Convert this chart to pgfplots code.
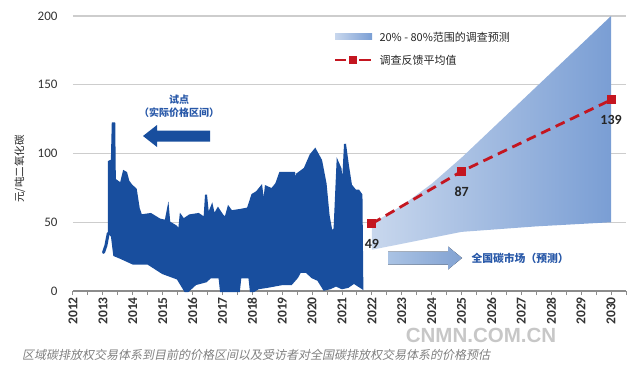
\documentclass[border=0pt]{standalone}
\usepackage{fontspec}
\setmainfont{Carlito}
\newfontfamily\cjk{Noto Sans CJK SC}
\newfontfamily\cjkit[FakeSlant=0.2]{Noto Sans CJK SC}
\newfontfamily\wm{Liberation Sans}
\usepackage{pgfplots}
\pgfplotsset{compat=1.18}
\definecolor{pilot}{RGB}{24,78,158}
\definecolor{bandL}{RGB}{200,215,237}
\definecolor{bandR}{RGB}{122,158,212}
\definecolor{fred}{RGB}{196,22,32}
\definecolor{txtblue}{RGB}{40,88,168}
\definecolor{arrowL}{RGB}{170,195,228}
\definecolor{arrowR}{RGB}{130,162,210}
\definecolor{gridc}{RGB}{205,205,205}
\definecolor{axc}{RGB}{140,140,140}
\begin{document}
\begin{tikzpicture}[x=1pt,y=1pt]
\useasboundingbox (0,0) rectangle (640,373);
\begin{axis}[
  at={(73pt,82pt)}, anchor=south west,
  scale only axis, width=553pt, height=275pt,
  xmin=2012, xmax=2030.5, ymin=0, ymax=200,
  clip=false,
  separate axis lines,
  axis x line*=bottom, axis y line*=left,
  y axis line style={draw=none},
  x axis line style={draw=axc, line width=1.2pt},
  xtick={2012,...,2030},
  minor xtick={2012.5,2013.5,...,2030.5},
  xtick align=outside,
  major tick length=4pt, minor tick length=4pt,
  xtick style={draw=axc, line width=1pt},
  minor tick style={draw=axc, line width=1pt},
  ytick={0,50,100,150,200},
  ytick style={draw=none},
  ymajorgrids,
  grid style={draw=gridc, line width=1.2pt},
  /pgf/number format/assume math mode=true,
  xticklabel={\pgfmathprintnumber[1000 sep={}]{\tick}},
  xticklabel style={rotate=90, anchor=east, font=\bfseries\fontsize{13.5}{14}\selectfont, text=black!80, inner sep=2pt},
  yticklabel style={font=\fontsize{13}{14}\selectfont, text=black!80, xshift=-12pt},
]
% forecast band (20%-80%)
\addplot[draw=none, left color=bandL, right color=bandR] coordinates {
  (2022,30) (2022,49) (2023,62) (2024,78) (2025,97) (2030,200)
  (2030,50) (2027.5,47) (2025,43) (2022,30)};
% pilot price range: upper envelope then lower envelope
\addplot[fill=pilot, draw=pilot, line width=2pt, line join=miter] coordinates {
  (2013.20,42) (2013.20,94) (2013.30,95) (2013.33,122) (2013.38,122) (2013.40,81)
  (2013.60,78) (2013.70,87) (2013.78,86) (2013.85,80) (2013.95,77) (2014.10,74)
  (2014.20,60) (2014.28,55) (2014.60,56) (2014.90,52) (2015.10,51) (2015.18,60)
  (2015.22,50) (2015.45,47) (2015.55,44) (2015.60,55) (2015.70,52) (2015.90,55)
  (2016.20,56) (2016.40,53) (2016.45,70) (2016.52,55) (2016.65,62) (2016.72,55)
  (2016.85,60) (2017.00,55) (2017.10,53) (2017.20,61) (2017.30,58) (2017.60,59)
  (2017.85,60) (2018.00,70) (2018.15,72) (2018.30,76) (2018.38,62) (2018.45,76)
  (2018.65,74) (2018.80,78) (2018.93,86) (2019.40,86) (2019.45,77) (2019.50,85)
  (2019.75,89) (2019.95,99) (2020.10,103) (2020.30,95) (2020.45,78) (2020.55,55)
  (2020.65,43) (2020.75,45) (2020.85,94) (2020.95,89) (2021.02,73) (2021.10,107)
  (2021.20,91) (2021.30,77) (2021.45,73) (2021.55,73) (2021.65,70) (2021.68,2)
  (2021.40,6) (2021.20,3) (2021.00,2) (2020.80,4) (2020.60,2) (2020.40,1)
  (2020.20,8) (2020.00,10) (2019.80,14) (2019.60,14) (2019.50,10) (2019.30,5)
  (2019.00,5) (2018.50,3) (2018.20,2) (2018.05,0) (2017.95,0) (2017.90,10)
  (2017.60,10) (2017.55,0) (2016.95,0) (2016.90,10) (2016.60,10) (2016.45,7)
  (2016.10,5) (2015.85,0) (2015.75,0) (2015.50,9) (2015.00,13) (2014.50,20)
  (2014.00,20) (2013.60,24) (2013.38,26) (2013.30,40) (2013.20,42)};
% early thin rising line
\addplot[draw=pilot, line width=3pt, line cap=round] coordinates {
  (2013.02,28) (2013.10,33) (2013.18,42)};
% survey mean
\addplot[draw=fred, line width=2.8pt, dash pattern=on 10pt off 6pt,
  mark=square*, mark size=4pt, mark options={solid, fill=fred, draw=fred, line width=0pt}]
  coordinates {(2022,49) (2025,87) (2030,139)};
\node[font=\bfseries\fontsize{14}{14}\selectfont, text=black!85, yshift=-20pt] at (axis cs:2022,49) {49};
\node[font=\bfseries\fontsize{14}{14}\selectfont, text=black!85, yshift=-20pt] at (axis cs:2025,87) {87};
\node[font=\bfseries\fontsize{14}{14}\selectfont, text=black!85, yshift=-20pt] at (axis cs:2030,139) {139};
\end{axis}
% y label
\node[rotate=90, font=\cjk\fontsize{10.5}{11}\selectfont, text=black!85] at (20,204) {元/吨二氧化碳};
% pilot annotation
\node[font=\cjk\bfseries\fontsize{10}{11}\selectfont, text=txtblue] at (179,273) {试点};
\node[font=\cjk\bfseries\fontsize{10}{11}\selectfont, text=txtblue] at (179,260) {（实际价格区间）};
\fill[pilot] (143,237) -- (157,248) -- (157,242.5) -- (210,242.5) -- (210,231.5) -- (157,231.5) -- (157,226) -- cycle;
% national market arrow
\fill[left color=arrowL, right color=arrowR] (388,121.5) -- (448,121.5) -- (448,126.5) -- (462,115) -- (448,103.5) -- (448,108.5) -- (388,108.5) -- cycle;
\node[font=\cjk\bfseries\fontsize{10.8}{11}\selectfont, text=txtblue, anchor=west] at (468,115) {全国碳市场（预测）};
% legend
\fill[left color=bandL, right color=bandR] (335,333) rectangle (372,339.5);
\node[font=\cjk\fontsize{11}{12}\selectfont, text=black!85, anchor=west] at (376,336) {20\% - 80\%范围的调查预测};
\draw[fred, line width=2.8pt] (335,313) -- (346,313);
\draw[fred, line width=2.8pt] (359,313) -- (371,313);
\fill[fred] (348.5,309) rectangle (356.5,317);
\node[font=\cjk\fontsize{11}{12}\selectfont, text=black!85, anchor=west] at (376,313) {调查反馈平均值};
% watermark
\node[font=\wm\bfseries\fontsize{20.5}{21}\selectfont, text=black!22] at (481,38) {CNMN.COM.CN};
% caption
\node[font=\cjkit\fontsize{12}{12}\selectfont, text=black!50, anchor=west, inner sep=0pt] at (22,18) {区域碳排放权交易体系到目前的价格区间以及受访者对全国碳排放权交易体系的价格预估};
\end{tikzpicture}
\end{document}
